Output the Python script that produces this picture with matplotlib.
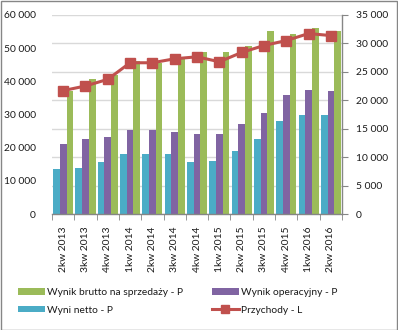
import matplotlib
matplotlib.use("Agg")
import matplotlib.pyplot as plt
import numpy as np
from matplotlib.patches import Rectangle, Patch
from matplotlib.lines import Line2D
from matplotlib.ticker import FuncFormatter, MultipleLocator

categories = ["2kw 2013", "3kw 2013", "4kw 2013", "1kw 2014", "2kw 2014", "3kw 2014",
              "4kw 2014", "1kw 2015", "2kw 2015", "3kw 2015", "4kw 2015", "1kw 2016", "2kw 2016"]
wynik_netto = [7900, 8100, 9100, 10600, 10600, 10600, 9100, 9300, 11100, 13200, 16400, 17400, 17400]
wynik_operacyjny = [12300, 13200, 13500, 14800, 14800, 14400, 14100, 14100, 15800, 17800, 20900, 21800, 21600]
wynik_brutto = [21700, 23700, 24400, 26900, 26600, 27200, 28500, 28500, 29500, 32200, 31700, 32700, 32200]
przychody = [37200, 38600, 40600, 45600, 45600, 46800, 47400, 45900, 48700, 50800, 52300, 54400, 53800]

labels = ["Wynik brutto na sprzedaży - P", "Wynik operacyjny - P", "Wyni netto - P", "Przychody - L"]

c_green = "#9BBB59"
c_purple = "#8064A2"
c_cyan = "#4BACC6"
c_red = "#C0504D"
c_axis = "#868686"
c_grid = "#D9D9D9"
c_text = "#1a1a1a"

plt.rcParams['font.family'] = ['Lato', 'DejaVu Sans']
fs = 7.4

W, H = 398, 330
fig = plt.figure(figsize=(W / 100, H / 100), dpi=100)
fig.patches.append(Rectangle((0.5 / W, 0.5 / H), 1 - 1.5 / W, 1 - 1.5 / H, transform=fig.transFigure,
                             fill=False, edgecolor=c_axis, linewidth=1))

ax = fig.add_axes([52 / W, (H - 214) / H, 290 / W, 199 / H])
x = np.arange(len(categories))
bw = 0.3
ax.bar(x - bw, wynik_netto, bw, color=c_cyan, zorder=2)
ax.bar(x, wynik_operacyjny, bw, color=c_purple, zorder=2)
ax.bar(x + bw, wynik_brutto, bw, color=c_green, zorder=2)
ax.set_xlim(-0.5, len(categories) - 0.5)
ax.set_ylim(0, 35000)
ax.yaxis.set_major_locator(MultipleLocator(5000))
ax.yaxis.grid(True, color=c_grid, linewidth=1)
ax.set_axisbelow(True)
fmt = FuncFormatter(lambda v, p: "0" if v == 0 else f"{int(v):,}".replace(",", " "))
ax.yaxis.set_major_formatter(fmt)
ax.set_xticks(x)
ax.set_xticklabels(categories, rotation=90, fontsize=fs, color=c_text)
ax.set_xticks(np.arange(-0.5, len(categories), 1), minor=True)
ax.tick_params(axis='x', which='major', length=0, pad=9)
ax.tick_params(axis='x', which='minor', length=4, color=c_axis, direction='out')

axL = ax.twinx()
axL.plot(x, przychody, color=c_red, linewidth=2.2, marker='s', markersize=6.5, zorder=3)
axL.set_ylim(0, 60000)
axL.yaxis.set_major_locator(MultipleLocator(10000))
axL.yaxis.set_major_formatter(fmt)
axL.yaxis.tick_left()
axL.yaxis.set_label_position('left')
axL.tick_params(axis='y', left=False, right=False, labelleft=True, labelright=False,
                labelsize=fs, labelcolor=c_text, pad=8)
for s in axL.spines.values():
    s.set_visible(False)

ax.yaxis.tick_right()
ax.yaxis.set_label_position('right')
ax.tick_params(axis='y', left=False, right=True, labelleft=False, labelright=True,
               direction='out', length=4, color=c_axis,
               labelsize=fs, labelcolor=c_text, pad=6)
for s in ['top', 'left']:
    ax.spines[s].set_visible(False)
for s in ['bottom', 'right']:
    ax.spines[s].set_color(c_axis)
    ax.spines[s].set_linewidth(1)

h_green = Patch(facecolor=c_green, edgecolor='none')
h_purple = Patch(facecolor=c_purple, edgecolor='none')
h_cyan = Patch(facecolor=c_cyan, edgecolor='none')
h_line = Line2D([], [], color=c_red, linewidth=2.2, marker='s', markersize=6)

common = dict(frameon=False, fontsize=fs, handlelength=2.6, handleheight=0.6,
              handletextpad=0.2, labelspacing=0.85, borderaxespad=0, borderpad=0,
              labelcolor=c_text)
leg1 = fig.legend([h_green, h_cyan], [labels[0], labels[2]], loc='upper left',
                  bbox_to_anchor=(18 / W, 1 - 288 / H), **common)
leg2 = fig.legend([h_purple, h_line], [labels[1], labels[3]], loc='upper left',
                  bbox_to_anchor=(212 / W, 1 - 288 / H), **common)

fig.savefig("out.png", dpi=100)
